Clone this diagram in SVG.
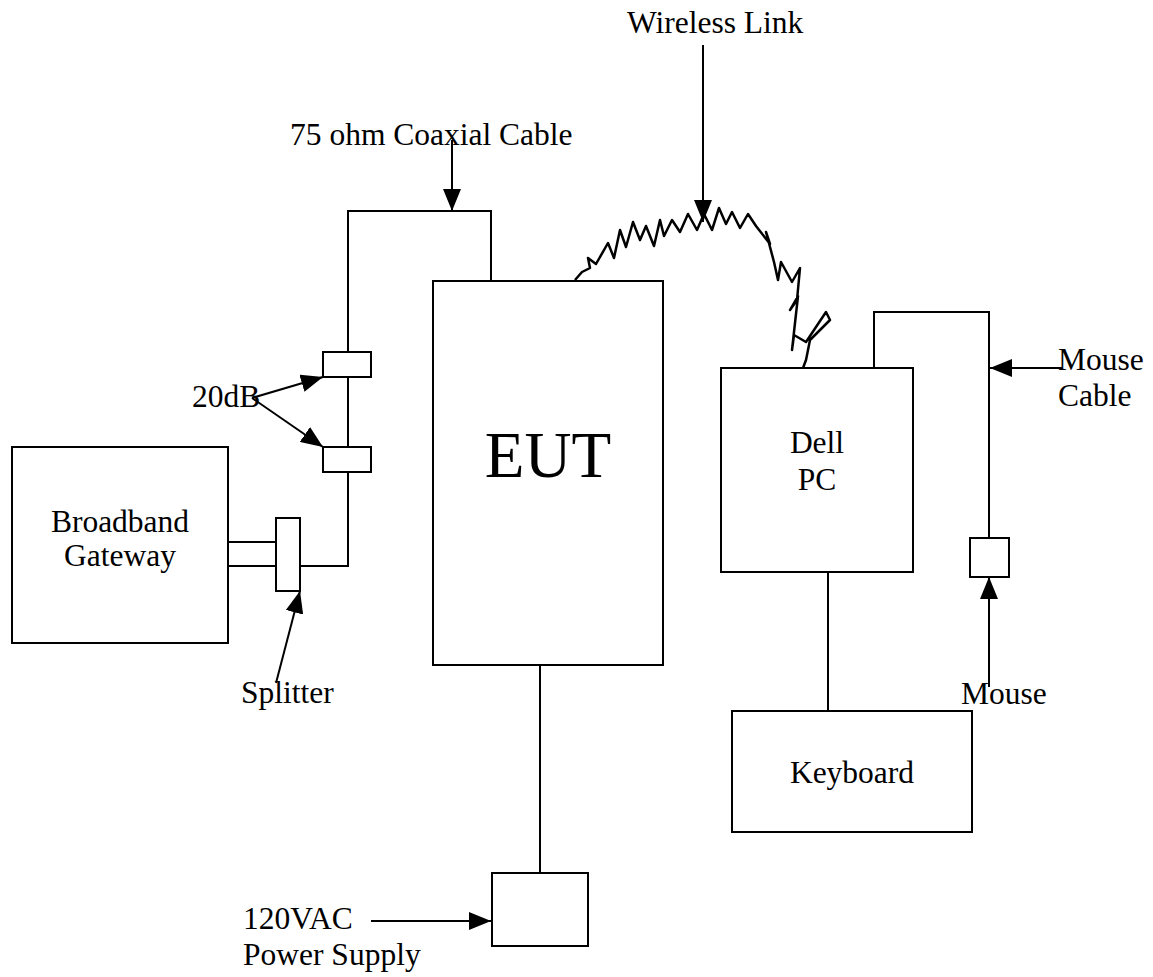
<svg xmlns="http://www.w3.org/2000/svg" width="1153" height="977" viewBox="0 0 1153 977">
<style>
.box{fill:#fff;stroke:#000;stroke-width:2}
.ln{fill:none;stroke:#000;stroke-width:2}
.ar{fill:none;stroke:#000;stroke-width:2;marker-end:url(#arr)}
.t{font-family:"Liberation Serif","Times New Roman",serif;font-size:31.5px;fill:#000}
.c{text-anchor:middle}
</style>
<defs>
<marker id="arr" markerWidth="22" markerHeight="18" refX="22" refY="9" orient="auto" markerUnits="userSpaceOnUse"><path d="M0,0 L22,9 L0,18 z" fill="#000"/></marker>
</defs>
<rect width="1153" height="977" fill="#fff"/>
<g id="connectors">
<polyline class="ln" points="491,281 491,211 348,211 348,352"/>
<line class="ln" x1="348" y1="377" x2="348" y2="447"/>
<polyline class="ln" points="348,472 348,566 300,566"/>
<line class="ln" x1="228" y1="542" x2="276" y2="542"/>
<line class="ln" x1="228" y1="566" x2="276" y2="566"/>
<line class="ln" x1="540" y1="665" x2="540" y2="873"/>
<line class="ln" x1="828" y1="572" x2="828" y2="711"/>
<polyline class="ln" points="874,368 874,312 989,312 989,538"/>
<polyline fill="none" stroke="#000" stroke-width="2.5" stroke-linejoin="round" points="575,280 582,272 590,268 588,258 596,264 608,243 614,258 620,230 626,247 633,222 640,240 646,226 654,246 660,220 664,236 672,220 680,232 688,214 697,230 704,214 712,230 719,208 726,224 732,212 740,228 748,214 756,226 770,244 766,232 774,262 778,280 781,262 792,282 800,268 797,300 790,310 798,296 792,350 794,335 806,342 826,312 830,320 810,340 806,360 803,368"/>
<line class="ar" x1="452" y1="140" x2="452" y2="211"/>
<line class="ar" x1="703" y1="45" x2="703" y2="222"/>
<line class="ar" x1="252" y1="398" x2="323" y2="377"/>
<line class="ar" x1="252" y1="398" x2="323" y2="447"/>
<line class="ar" x1="276" y1="683" x2="300" y2="591"/>
<line class="ar" x1="1062" y1="368" x2="990" y2="368"/>
<line class="ar" x1="989" y1="687" x2="989" y2="577"/>
<line class="ar" x1="371" y1="921" x2="491" y2="921"/>
</g>
<g id="gateway"><rect class="box" x="12" y="447" width="216" height="196"/><text class="t c" x="120" y="532">Broadband</text><text class="t c" x="120" y="566">Gateway</text></g>
<g id="splitter"><rect class="box" x="276" y="518" width="24" height="73"/></g>
<g id="att1"><rect class="box" x="323" y="352" width="48" height="25"/></g>
<g id="att2"><rect class="box" x="323" y="447" width="48" height="25"/></g>
<g id="eut"><rect class="box" x="433" y="281" width="230" height="384"/><text class="c" x="548" y="477" font-family="Liberation Serif, serif" font-size="65">EUT</text></g>
<g id="dellpc"><rect class="box" x="721" y="368" width="192" height="204"/><text class="t c" x="817" y="453">Dell</text><text class="t c" x="817" y="490">PC</text></g>
<g id="keyboard"><rect class="box" x="732" y="711" width="240" height="121"/><text class="t c" x="852" y="783">Keyboard</text></g>
<g id="mouse"><rect class="box" x="970" y="538" width="39" height="39"/></g>
<g id="psu"><rect class="box" x="492" y="873" width="96" height="73"/></g>
<g id="labels">
<text class="t" x="627" y="33">Wireless Link</text>
<text class="t" x="290" y="145">75 ohm Coaxial Cable</text>
<text class="t" x="192" y="407">20dB</text>
<text class="t" x="241" y="703">Splitter</text>
<text class="t" x="1058" y="370">Mouse</text>
<text class="t" x="1058" y="406">Cable</text>
<text class="t" x="961" y="704">Mouse</text>
<text class="t" x="243" y="929">120VAC</text>
<text class="t" x="243" y="965">Power Supply</text>
</g>
</svg>
